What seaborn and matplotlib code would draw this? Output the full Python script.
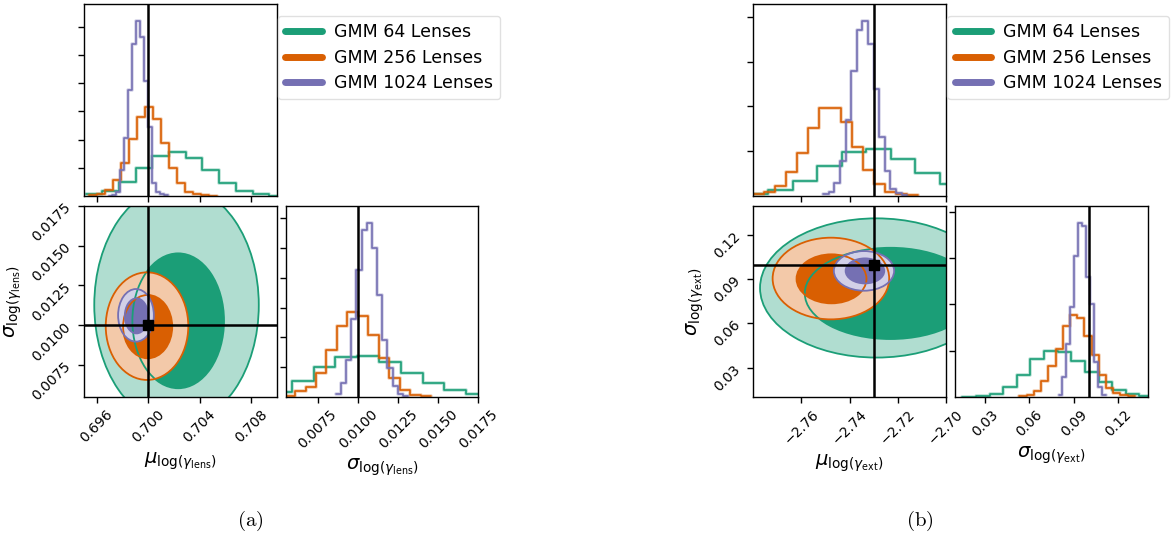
import matplotlib
matplotlib.use("Agg")
import matplotlib.pyplot as plt
import matplotlib.patheffects as pe
from matplotlib.lines import Line2D
from matplotlib.patches import Ellipse
import seaborn as sns
import pandas as pd

sns.set_style("ticks")
plt.rcParams["font.family"] = ["DejaVu Sans"]
plt.rcParams["mathtext.fontset"] = "dejavusans"
for key in ["axes.edgecolor", "text.color", "axes.labelcolor", "xtick.color", "ytick.color"]:
    plt.rcParams[key] = "black"

labels = ["GMM 64 Lenses", "GMM 256 Lenses", "GMM 1024 Lenses"]
colors = ["#1b9e77", "#d95f02", "#7570b3"]
light = ["#b0ddd0", "#f3c9a9", "#d2d0e7"]

# ---- panel (a): log(gamma_lens) ----
# histograms: first bin edge, bin width, density per bin (64, 256, 1024 lenses)
lens_mu_start = [0.69513, 0.69536, 0.69691]
lens_mu_width = [0.0013, 0.000625, 0.000307]
lens_mu_64 = [8, 19, 49, 98, 143, 156, 136, 91, 46, 19, 8, 1]
lens_mu_256 = [3, 8, 20, 55, 118, 203, 280, 314, 274, 186, 100, 45, 15, 6, 2, 1]
lens_mu_1024 = [1, 2, 15, 92, 207, 374, 539, 618, 562, 407, 245, 47, 15, 7, 2]

lens_sig_start = [0.004514, 0.005427, 0.00862]
lens_sig_width = [0.00136, 0.000654, 0.000322]
lens_sig_64 = [16, 52, 99, 133, 138, 116, 79, 46, 24, 10]
lens_sig_256 = [4, 19, 33, 79, 158, 239, 286, 271, 208, 130, 63, 24, 8, 3]
lens_sig_1024 = [11, 47, 124, 261, 426, 559, 583, 499, 341, 191, 97, 36, 11, 2]

# credible regions (centre and half-extent) for 95% and 68%
lens_c95_mu = [0.70221, 0.69991, 0.69905]
lens_c95_sig = [0.01127, 0.009945, 0.010624]
lens_r95_mu = [0.00641, 0.003216, 0.001393]
lens_r95_sig = [0.0075, 0.003375, 0.00165]
lens_c68_mu = [0.70234, 0.69996, 0.69909]
lens_c68_sig = [0.01028, 0.009913, 0.01059]
lens_r68_mu = [0.00357, 0.001914, 0.00091]
lens_r68_sig = [0.00423, 0.001986, 0.0011]

lens_truth = [0.700, 0.0100]
lens_mu_lim = [0.695, 0.710]
lens_sig_lim = [0.0055, 0.0175]
lens_mu_ticks = [0.696, 0.700, 0.704, 0.708]
lens_sig_ticks = [0.0075, 0.0100, 0.0125, 0.0150, 0.0175]
lens_mu_hticks = [100, 200, 300, 400, 500, 600]
lens_sig_hticks = [100, 200, 300, 400, 500, 600]

# ---- panel (b): log(gamma_ext) ----
ext_mu_start = [-2.784, -2.78, -2.75094]
ext_mu_width = [0.0102, 0.00457, 0.002325]
ext_mu_64 = [0.9, 2.7, 6.8, 13.4, 19.7, 20.9, 16.6, 10.2, 5.2]
ext_mu_256 = [0.9, 1.6, 4.6, 10.7, 19.3, 30.3, 39.2, 39.5, 33, 22, 11.4, 5.2, 1.6, 0.7, 0.3]
ext_mu_1024 = [0.74, 1.9, 5.9, 15.7, 33.8, 55.8, 74.1, 78, 68.1, 47.7, 26.3, 11.3, 3.3, 1.5, 0.4]

ext_sig_start = [0.01477, 0.05333, 0.0797]
ext_sig_width = [0.0092, 0.00487, 0.00266]
ext_sig_64 = [0.14, 0.57, 1.4, 4.2, 9.6, 16.2, 19.9, 19.3, 15.7, 11, 6.3, 3.1, 1.4, 0.4]
ext_sig_256 = [0.29, 1.0, 2.7, 6.7, 13.5, 20.6, 30.8, 35.6, 34.2, 26.3, 18, 9.6, 3.9, 1.7, 1.0, 0.3]
ext_sig_1024 = [0.9, 8.5, 23, 38.9, 61, 75.1, 74, 52, 40, 15, 4.4, 1]

ext_c95_mu = [-2.7288, -2.74775, -2.734]
ext_c95_sig = [0.0841, 0.09051, 0.0957]
ext_r95_mu = [0.0484, 0.02422, 0.01253]
ext_r95_sig = [0.0473, 0.02775, 0.01348]
ext_c68_mu = [-2.723, -2.7475, -2.7336]
ext_c68_sig = [0.0804, 0.0903, 0.0957]
ext_r68_mu = [0.0356, 0.01453, 0.00803]
ext_r68_sig = [0.031, 0.01665, 0.0085]

ext_truth = [-2.73, 0.10]
ext_mu_lim = [-2.78, -2.70]
ext_sig_lim = [0.01, 0.14]
ext_mu_ticks = [-2.76, -2.74, -2.72, -2.70]
ext_sig_ticks = [0.03, 0.06, 0.09, 0.12]
ext_mu_hticks = [20, 40, 60, 80]
ext_sig_hticks = [20, 40, 60, 80]

W, H = 1171, 540


def px_axes(fig, l, t, r, b):
    return fig.add_axes([l / W, 1 - b / H, (r - l) / W, (b - t) / H])


def draw_hist(ax, starts, widths, series):
    top = 0
    for start, width, heights, c in zip(starts, widths, series, colors):
        heights = [float(h) for h in heights]
        edges = [start + width * i for i in range(len(heights) + 1)]
        df = pd.DataFrame({"x": [e + width / 2 for e in edges[:-1]], "w": heights})
        sns.histplot(data=df, x="x", weights="w", bins=edges, element="step",
                     fill=False, color=c, ax=ax, linewidth=1.2,
                     path_effects=[pe.Stroke(linewidth=2.6, foreground=c, alpha=0.3),
                                   pe.Normal()])
        top = max(top, max(heights))
    ax.set_ylim(0, 1.1 * top)
    ax.set_xlabel("")
    ax.set_ylabel("")


def fmt(vals, nd):
    return [f"{v:.{nd}f}".replace("-", "\u2212") for v in vals]


def panel(fig, x0, x1, name, mu_h, sig_h, c95, r95, c68, r68, truth,
          mu_lim, sig_lim, mu_ticks, sig_ticks, mu_nd, sig_nd, mu_ht, sig_ht):
    ax_top = px_axes(fig, x0, 4, x0 + 192.5, 196)
    ax_2d = px_axes(fig, x0, 205.7, x0 + 192.5, 397)
    ax_r = px_axes(fig, x1, 205.7, x1 + 192.5, 397)
    mu_lab = r"$\mu_{\log(\gamma_{\rm " + name + r"})}$"
    sig_lab = r"$\sigma_{\log(\gamma_{\rm " + name + r"})}$"

    draw_hist(ax_top, *mu_h)
    ax_top.set_xlim(mu_lim)
    ax_top.set_xticks(mu_ticks)
    ax_top.set_yticks(mu_ht)
    ax_top.tick_params(labelbottom=False, labelleft=False)
    ax_top.axvline(truth[0], color="k", lw=1.8)

    draw_hist(ax_r, *sig_h)
    ax_r.set_xlim(sig_lim)
    ax_r.set_xticks(sig_ticks)
    ax_r.set_xticklabels(fmt(sig_ticks, sig_nd), rotation=45)
    ax_r.set_yticks(sig_ht)
    ax_r.tick_params(labelleft=False)
    ax_r.axvline(truth[1], color="k", lw=1.8)
    ax_r.set_xlabel(sig_lab, fontsize=14)

    # filled credible regions, then their outlines on top
    for k in range(3):
        ax_2d.add_patch(Ellipse((c95[0][k], c95[1][k]), 2 * r95[0][k], 2 * r95[1][k],
                                facecolor=light[k], edgecolor="none"))
        ax_2d.add_patch(Ellipse((c68[0][k], c68[1][k]), 2 * r68[0][k], 2 * r68[1][k],
                                facecolor=colors[k], edgecolor="none"))
    for k in range(3):
        ax_2d.add_patch(Ellipse((c95[0][k], c95[1][k]), 2 * r95[0][k], 2 * r95[1][k],
                                facecolor="none", edgecolor=colors[k], lw=1.3))
        ax_2d.add_patch(Ellipse((c68[0][k], c68[1][k]), 2 * r68[0][k], 2 * r68[1][k],
                                facecolor="none", edgecolor=colors[k], lw=1.3))
    ax_2d.axvline(truth[0], color="k", lw=1.8)
    ax_2d.axhline(truth[1], color="k", lw=1.8)
    ax_2d.plot([truth[0]], [truth[1]], "s", color="k", ms=7)
    ax_2d.set_xlim(mu_lim)
    ax_2d.set_ylim(sig_lim)
    ax_2d.set_xticks(mu_ticks)
    ax_2d.set_xticklabels(fmt(mu_ticks, mu_nd), rotation=45)
    ax_2d.set_yticks(sig_ticks)
    ax_2d.set_yticklabels(fmt(sig_ticks, sig_nd), rotation=45)
    ax_2d.set_xlabel(mu_lab, fontsize=14)
    ax_2d.set_ylabel(sig_lab, fontsize=14)

    for ax in (ax_top, ax_2d, ax_r):
        ax.tick_params(direction="out", length=4, width=1, labelsize=10, color="k")
        for s in ax.spines.values():
            s.set_linewidth(1.0)
            s.set_color("k")

    handles = [Line2D([], [], color=c, lw=5) for c in colors]
    fig.legend(handles, labels, loc="upper left",
               bbox_to_anchor=((x0 + 194) / W, 1 - 16 / H), borderaxespad=0,
               fontsize=12.5, handlelength=2.1, handletextpad=0.7,
               labelspacing=0.42, borderpad=0.42, frameon=True, fancybox=True,
               edgecolor="0.85")


fig = plt.figure(figsize=(W / 100, H / 100), dpi=100)

panel(fig, 84, 285.7, "lens",
      (lens_mu_start, lens_mu_width, [lens_mu_64, lens_mu_256, lens_mu_1024]),
      (lens_sig_start, lens_sig_width, [lens_sig_64, lens_sig_256, lens_sig_1024]),
      (lens_c95_mu, lens_c95_sig), (lens_r95_mu, lens_r95_sig),
      (lens_c68_mu, lens_c68_sig), (lens_r68_mu, lens_r68_sig),
      lens_truth, lens_mu_lim, lens_sig_lim, lens_mu_ticks, lens_sig_ticks, 3, 4,
      lens_mu_hticks, lens_sig_hticks)

panel(fig, 753.3, 955.3, "ext",
      (ext_mu_start, ext_mu_width, [ext_mu_64, ext_mu_256, ext_mu_1024]),
      (ext_sig_start, ext_sig_width, [ext_sig_64, ext_sig_256, ext_sig_1024]),
      (ext_c95_mu, ext_c95_sig), (ext_r95_mu, ext_r95_sig),
      (ext_c68_mu, ext_c68_sig), (ext_r68_mu, ext_r68_sig),
      ext_truth, ext_mu_lim, ext_sig_lim, ext_mu_ticks, ext_sig_ticks, 2, 2,
      ext_mu_hticks, ext_sig_hticks)

fig.text(250 / W, 1 - 521 / H, r"$\mathrm{(a)}$", math_fontfamily="cm",
         fontsize=15, ha="center", va="center")
fig.text(920 / W, 1 - 521 / H, r"$\mathrm{(b)}$", math_fontfamily="cm",
         fontsize=15, ha="center", va="center")

fig.savefig("out.png", dpi=100)
plt.close(fig)
